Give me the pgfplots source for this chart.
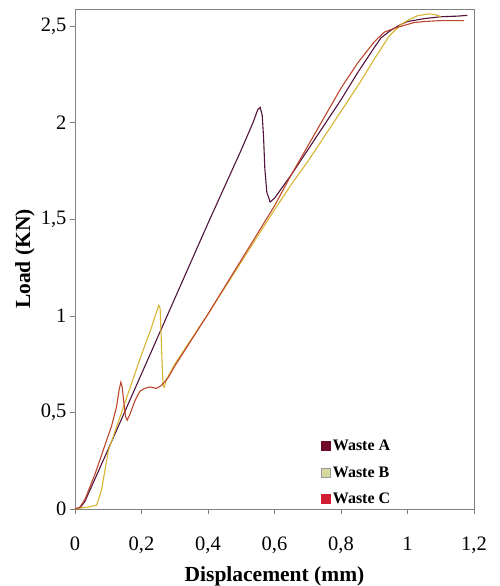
\documentclass[border=0pt]{standalone}
\usepackage{pgfplots}
\pgfplotsset{compat=1.18}
\usepackage{fontspec}
\setmainfont{Liberation Serif}
\definecolor{lineA}{RGB}{80,20,60}
\definecolor{lineB}{RGB}{215,180,50}
\definecolor{lineC}{RGB}{190,70,45}
\definecolor{legA}{RGB}{110,10,40}
\definecolor{legB}{RGB}{215,215,160}
\definecolor{legC}{RGB}{210,30,50}
\definecolor{axgray}{RGB}{128,128,128}
\begin{document}
\begin{tikzpicture}
\path[use as bounding box] (-75pt,-77pt) rectangle (424pt,509pt);
\begin{axis}[
  scale only axis,
  width=399pt, height=500pt,
  xmin=0, xmax=1.2, ymin=0, ymax=2.59,
  axis line style={axgray, line width=0.8pt},
  tick style={axgray, line width=0.8pt},
  tick align=outside, major tick length=5pt,
  xtick pos=bottom, ytick pos=left,
  xtick={0,0.2,0.4,0.6,0.8,1,1.2},
  xticklabels={0,{0,2},{0,4},{0,6},{0,8},1,{1,2}},
  ytick={0,0.5,1,1.5,2,2.5},
  yticklabels={0,{0,5},1,{1,5},2,{2,5}},
  ticklabel style={font=\fontsize{20.5}{20.5}\selectfont},
  xticklabel style={yshift=-19pt},
  yticklabel style={xshift=0pt},
  xlabel={\textbf{Displacement (mm)}},
  ylabel={\textbf{Load (KN)}},
  label style={font=\fontsize{21.5}{21.5}\selectfont},
  xlabel style={at={(axis description cs:0.5,0)}, anchor=center, yshift=-67pt},
  ylabel style={at={(axis description cs:0,0.5)}, anchor=center, yshift=50pt},
  legend style={draw=none, fill=none, at={(0.608,0.146)}, anchor=north west,
    font=\fontsize{16}{16}\selectfont\bfseries, row sep=10.5pt,
    legend cell align=left},
]
\addplot[lineA, line width=1.1pt,
  legend image code/.code={\fill[legA] (0pt,-4.5pt) rectangle (9pt,4.5pt);}]
coordinates {(0.0,0.0) (0.015,0.005) (0.03,0.04) (0.1,0.31) (0.2,0.70) (0.3,1.09) (0.4,1.48) (0.5,1.86) (0.535,2.0) (0.55,2.07) (0.557,2.08) (0.563,2.04) (0.567,1.93) (0.571,1.76) (0.577,1.64) (0.587,1.59) (0.6,1.61) (0.65,1.73) (0.7,1.86) (0.75,1.99) (0.8,2.12) (0.85,2.26) (0.9,2.39) (0.92,2.44) (0.95,2.48) (0.98,2.51) (1.0,2.525) (1.05,2.54) (1.1,2.55) (1.15,2.553) (1.18,2.557)};
\addlegendentry{Waste A}
\addplot[lineB, line width=1.1pt,
  legend image code/.code={\filldraw[fill=legB, draw=gray!80, line width=0.6pt] (0pt,-4.5pt) rectangle (9pt,4.5pt);}]
coordinates {(0.0,0.0) (0.015,0.005) (0.04,0.01) (0.065,0.02) (0.08,0.1) (0.1,0.3) (0.13,0.45) (0.16,0.6) (0.2,0.8) (0.23,0.94) (0.245,1.02) (0.252,1.055) (0.256,1.04) (0.259,0.9) (0.262,0.75) (0.265,0.64) (0.268,0.63) (0.275,0.67) (0.3,0.75) (0.35,0.88) (0.4,1.01) (0.5,1.28) (0.6,1.55) (0.65,1.68) (0.7,1.80) (0.75,1.93) (0.8,2.06) (0.85,2.19) (0.9,2.33) (0.945,2.45) (0.98,2.51) (1.0,2.53) (1.03,2.555) (1.065,2.565) (1.085,2.56) (1.1,2.55)};
\addlegendentry{Waste B}
\addplot[lineC, line width=1.1pt,
  legend image code/.code={\fill[legC] (0pt,-4.5pt) rectangle (9pt,4.5pt);}]
coordinates {(0.0,0.0) (0.015,0.01) (0.03,0.05) (0.06,0.18) (0.09,0.33) (0.11,0.43) (0.125,0.53) (0.133,0.62) (0.138,0.657) (0.142,0.63) (0.147,0.55) (0.152,0.48) (0.157,0.46) (0.165,0.49) (0.18,0.56) (0.195,0.61) (0.21,0.625) (0.225,0.632) (0.245,0.625) (0.26,0.64) (0.28,0.68) (0.3,0.74) (0.4,1.01) (0.5,1.29) (0.6,1.57) (0.65,1.73) (0.7,1.88) (0.75,2.03) (0.8,2.18) (0.85,2.31) (0.9,2.42) (0.93,2.47) (0.96,2.49) (1.0,2.51) (1.02,2.52) (1.05,2.525) (1.1,2.53) (1.17,2.53)};
\addlegendentry{Waste C}
\end{axis}
\end{tikzpicture}
\end{document}
